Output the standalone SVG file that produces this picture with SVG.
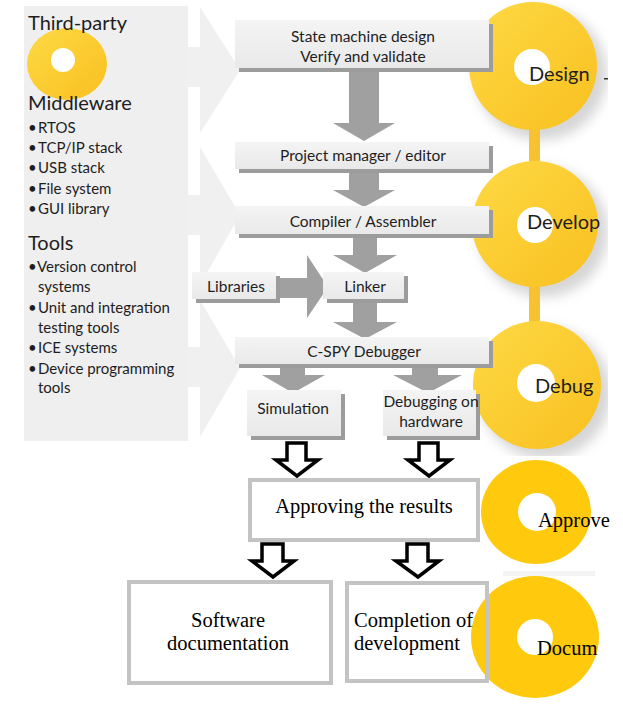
<svg xmlns="http://www.w3.org/2000/svg" width="623" height="719" viewBox="0 0 623 719">
<defs>
<style>
.sans{font-family:Lato,"Open Sans","Liberation Sans",sans-serif;fill:#1e1e1e}
.lt{font-size:20px}
.bl{font-size:15px}
.bu{font-size:12px}
.bx{font-size:15.5px;text-anchor:middle}
.cl{font-size:20px}
.serif{font-family:"Liberation Serif","Times New Roman",serif;fill:#000;font-size:20.5px}
.box{fill:url(#boxg)}
.sh{fill:#9c9c9c}
.ga{fill:#a0a0a0}
.oa{fill:#fff;stroke:#000;stroke-width:3.5;stroke-linejoin:miter}
.ob{fill:none;stroke:#c3c3c3;stroke-width:4}
.chev{fill:#f0f0f0}
.yel{fill:url(#yel)}
.flat{fill:#ffc90e}
.hole{fill:#fff}
</style>
<linearGradient id="boxg" x1="0" y1="0" x2="0" y2="1"><stop offset="0" stop-color="#f4f4f4"/><stop offset="1" stop-color="#e9e9e9"/></linearGradient>
<linearGradient id="yel" x1="0" y1="0" x2="1" y2="1"><stop offset="0" stop-color="#fed944"/><stop offset="1" stop-color="#f8c020"/></linearGradient>
<filter id="blur" x="-50%" y="-50%" width="200%" height="200%"><feGaussianBlur stdDeviation="6"/></filter>
<clipPath id="topclip"><rect x="0" y="0" width="608" height="456"/></clipPath>
</defs>

<g id="background-panel">
<rect x="24" y="6" width="164" height="435" fill="#efefef"/>
<rect class="chev" x="187" y="47" width="14" height="40"/>
<polygon class="chev" points="200,7 240,70 200,133"/>
<rect class="chev" x="187" y="195" width="14" height="40"/>
<polygon class="chev" points="200,147 240,215 200,285"/>
<rect class="chev" x="187" y="347" width="14" height="40"/>
<polygon class="chev" points="200,300 240,368 200,437"/>
</g>

<g id="third-party">
<ellipse class="yel" cx="67" cy="64" rx="40" ry="36"/>
<circle class="hole" cx="63" cy="60" r="12"/>
<text class="sans lt" x="28" y="30">Third-party</text>
</g>

<g id="middleware">
<text class="sans lt" x="28" y="110">Middleware</text>
<text class="sans bl" x="28" y="133">•<tspan x="38">RTOS</tspan></text>
<text class="sans bl" x="28" y="153">•<tspan x="38">TCP/IP stack</tspan></text>
<text class="sans bl" x="28" y="173">•<tspan x="38">USB stack</tspan></text>
<text class="sans bl" x="28" y="194">•<tspan x="38">File system</tspan></text>
<text class="sans bl" x="28" y="214">•<tspan x="38">GUI library</tspan></text>
</g>

<g id="tools">
<text class="sans lt" x="28" y="250">Tools</text>
<text class="sans bl" x="28" y="272">•<tspan x="37">Version control</tspan></text>
<text class="sans bl" x="38" y="292">systems</text>
<text class="sans bl" x="28" y="313">•<tspan x="38">Unit and integration</tspan></text>
<text class="sans bl" x="38" y="333">testing tools</text>
<text class="sans bl" x="28" y="353">•<tspan x="38">ICE systems</tspan></text>
<text class="sans bl" x="28" y="374">•<tspan x="38">Device programming</tspan></text>
<text class="sans bl" x="38" y="393">tools</text>
</g>

<g id="phase-shadows" clip-path="url(#topclip)" opacity="0.35">
<circle cx="541" cy="74" r="66" fill="#8a8a8a" filter="url(#blur)"/>
<circle cx="543" cy="232" r="65" fill="#8a8a8a" filter="url(#blur)"/>
<circle cx="545" cy="393" r="66" fill="#8a8a8a" filter="url(#blur)"/>
</g>

<g id="phase-bar">
<rect x="529" y="110" width="11" height="230" fill="#f6c232"/>
</g>

<g id="design">
<circle class="yel" cx="533" cy="66" r="64"/>
<circle class="hole" cx="532" cy="67" r="18"/>
<text class="sans cl" x="529" y="81">Design</text>
<rect x="604" y="78" width="4" height="1.5" fill="#333"/>
</g>

<g id="develop">
<circle class="yel" cx="535" cy="224" r="63"/>
<circle class="hole" cx="535" cy="225" r="18"/>
<text class="sans cl" x="527" y="229">Develop</text>
</g>

<g id="debug">
<circle class="yel" cx="537" cy="385" r="64"/>
<circle class="hole" cx="536" cy="383" r="19"/>
<text class="sans cl" x="535" y="393">Debug</text>
</g>

<g id="connectors">
<polygon class="ga" points="349,70 379,70 379,123 395,123 364,141 333,123 349,123"/>
<polygon class="ga" points="349,170 379,170 379,190 395,190 364,207 333,190 349,190"/>
<polygon class="ga" points="353,236 377,236 377,255 397,255 365,273 333,255 353,255"/>
<polygon class="ga" points="278,278 307,278 307,255 328,287 307,318 307,298 278,298"/>
<polygon class="ga" points="353,300 377,300 377,322 397,322 365,339 333,322 353,322"/>
<polygon class="ga" points="280,365 305,365 305,375 325,375 293,393 262,375 280,375"/>
<polygon class="ga" points="412,365 438,365 438,375 462,375 428,393 393,375 412,375"/>
<polygon class="oa" points="287,443 306,443 306,460 318,460 297,476 276,460 287,460"/>
<polygon class="oa" points="419,443 438,443 438,460 450,460 429,476 408,460 419,460"/>
<polygon class="oa" points="262,544 283,544 283,561 294,561 273,577 252,561 262,561"/>
<polygon class="oa" points="407,544 428,544 428,561 439,561 418,577 396,561 407,561"/>
</g>

<g id="state-machine">
<rect class="sh" x="239" y="24" width="254" height="48"/>
<rect class="box" x="235" y="20" width="254" height="48"/>
<text class="sans bx" x="363" y="42">State machine design</text>
<text class="sans bx" x="363" y="62">Verify and validate</text>
</g>

<g id="project-manager">
<rect class="sh" x="239" y="146" width="254" height="27"/>
<rect class="box" x="235" y="142" width="254" height="27"/>
<text class="sans bx" x="363" y="161">Project manager / editor</text>
</g>

<g id="compiler">
<rect class="sh" x="239" y="210" width="254" height="28"/>
<rect class="box" x="235" y="206" width="254" height="28"/>
<text class="sans bx" x="363" y="227">Compiler / Assembler</text>
</g>

<g id="libraries">
<rect class="sh" x="196" y="276" width="84" height="27"/>
<rect class="box" x="192" y="272" width="84" height="27"/>
<text class="sans bx" x="236" y="292">Libraries</text>
</g>

<g id="linker">
<rect class="sh" x="327" y="276" width="81" height="27"/>
<rect class="box" x="323" y="272" width="81" height="27"/>
<text class="sans bx" x="365" y="292">Linker</text>
</g>

<g id="c-spy">
<rect class="sh" x="239" y="341" width="254" height="27"/>
<rect class="box" x="235" y="337" width="254" height="27"/>
<text class="sans bx" x="364" y="357">C-SPY Debugger</text>
</g>

<g id="simulation">
<rect class="sh" x="251" y="394" width="94" height="46"/>
<rect class="box" x="247" y="390" width="94" height="46"/>
<text class="sans bx" x="293" y="414">Simulation</text>
</g>

<g id="debugging-hardware">
<rect class="sh" x="387" y="394" width="93" height="46"/>
<rect class="box" x="383" y="390" width="93" height="46"/>
<text class="sans bx" x="431" y="407">Debugging on</text>
<text class="sans bx" x="431" y="427">hardware</text>
</g>

<g id="approving">
<rect class="ob" x="250" y="480" width="228" height="60"/>
<text class="serif" x="364" y="513" text-anchor="middle">Approving the results</text>
</g>

<g id="approve">
<ellipse class="flat" cx="536" cy="512" rx="55" ry="52"/>
<circle class="hole" cx="537" cy="512" r="19"/>
<text class="serif" x="538" y="527">Approve</text>
</g>

<rect x="503" y="571" width="92" height="5" fill="#f3f3f3"/>

<g id="docum">
<ellipse class="flat" cx="535" cy="637" rx="64" ry="61"/>
<circle class="hole" cx="535" cy="637" r="18"/>
<text class="serif" x="537" y="655">Docum</text>
</g>

<g id="software-documentation">
<rect class="ob" x="129" y="582" width="202" height="101"/>
<text class="serif" x="228" y="627" text-anchor="middle">Software</text>
<text class="serif" x="228" y="650" text-anchor="middle">documentation</text>
</g>

<g id="completion">
<rect class="ob" x="347" y="583" width="140" height="98"/>
<text class="serif" x="354" y="627">Completion of</text>
<text class="serif" x="354" y="650">development</text>
</g>
</svg>
